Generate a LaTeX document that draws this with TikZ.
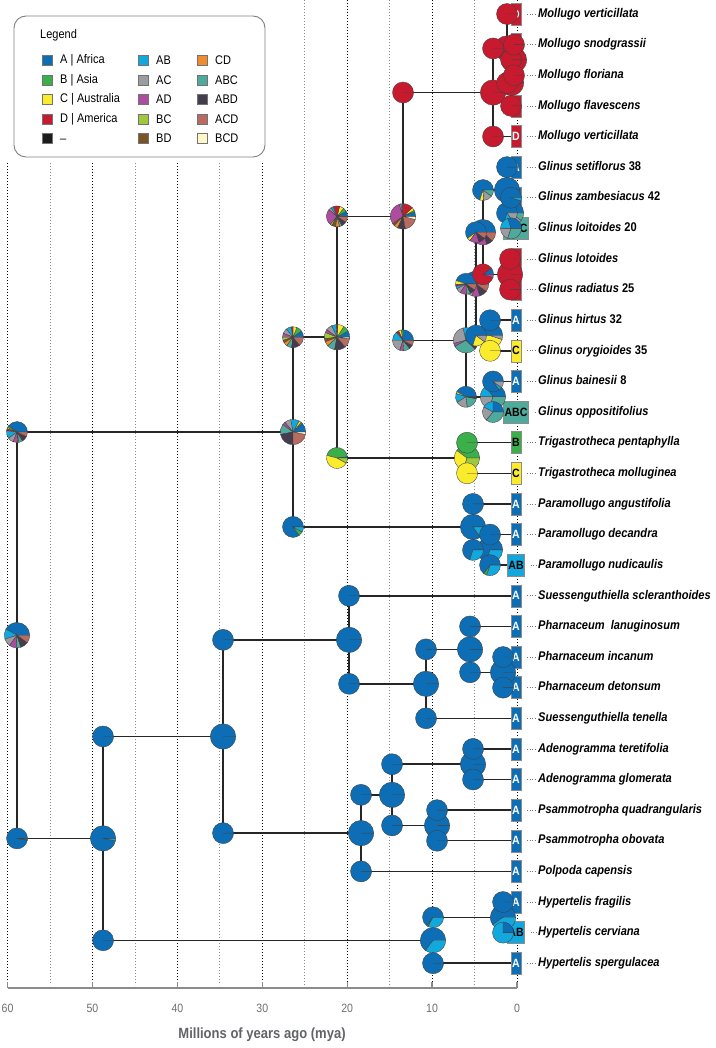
\documentclass[tikz,border=0pt]{standalone}
\usepackage{fontspec}
\setmainfont{Liberation Sans}[FakeStretch=0.88]

\definecolor{colA}{HTML}{0D6EB5}
\definecolor{colB}{HTML}{3AAF4A}
\definecolor{colC}{HTML}{FAEC2D}
\definecolor{colD}{HTML}{C71A2F}
\definecolor{colNull}{HTML}{1C1C1C}
\definecolor{colAB}{HTML}{12A8DE}
\definecolor{colAC}{HTML}{9B9C9F}
\definecolor{colAD}{HTML}{AE4C9F}
\definecolor{colBC}{HTML}{9FC93C}
\definecolor{colBD}{HTML}{7A5424}
\definecolor{colCD}{HTML}{F08C30}
\definecolor{colABC}{HTML}{4FAA9B}
\definecolor{colABD}{HTML}{453C4E}
\definecolor{colACD}{HTML}{B86B60}
\definecolor{colBCD}{HTML}{FFF7C8}
\definecolor{axisgray}{HTML}{6D6E72}

\tikzset{
  branch/.style={draw=black!85, line width=1.5pt},
  tipbox/.style={draw=black!45, line width=0.4pt, minimum width=10pt, minimum height=22pt,
    inner sep=1pt, font=\fontsize{12}{12}\selectfont\bfseries},
  taxon/.style={anchor=west, inner sep=0pt, text height=9pt, text depth=2.5pt,
    font=\fontsize{12.6}{14}\selectfont\bfseries\itshape},
  leader/.style={draw=black!55, line width=0.7pt, dash pattern=on 0.7pt off 1.8pt,
    shorten <=6pt, shorten >=2pt},
  majorgrid/.style={draw=black, line width=0.9pt, dash pattern=on 0.9pt off 2.1pt},
  minorgrid/.style={draw=black!45, line width=0.9pt, dash pattern=on 0.9pt off 2.1pt},
  pieslice/.style={draw=black!75, line width=0.35pt},
  swatch/.style={draw=black!55, line width=0.4pt, minimum size=10pt, inner sep=0pt},
  legtext/.style={anchor=west, inner sep=0pt, font=\fontsize{12.5}{14}\selectfont},
  legendbox/.style={draw=black!50, line width=0.9pt, rounded corners=12pt},
  axisline/.style={draw=axisgray!80, line width=1.4pt},
  ticklabel/.style={text=axisgray, font=\fontsize{12}{14}\selectfont},
  axistitle/.style={text=axisgray!90!black, font=\fontsize{14.8}{16}\selectfont\bfseries},
}

% pie of state probabilities: centre, radius, list of percent/colour
\newcommand{\statepie}[3]{%
  \xdef\pieangA{0}%
  \foreach \pieval/\piecol in {#3}{%
    \pgfmathsetmacro{\pieangB}{\pieangA+3.6*\pieval}%
    \filldraw[pieslice, fill=\piecol] (#1) -- ++(\pieangA:#2)
      arc[start angle=\pieangA, end angle=\pieangB, radius=#2] -- cycle;
    \xdef\pieangA{\pieangB}%
  }%
}

\begin{document}
\begin{tikzpicture}[x=1pt,y=-1pt]
\useasboundingbox (0,0) rectangle (715,1048);

% time grid
\foreach \myr in {0,10,...,60}{
  \pgfmathsetmacro\gx{517-8.49*\myr}
  \pgfmathsetmacro\gy{\myr>=30 ? 163 : 0}
  \draw[majorgrid] (\gx,\gy) -- (\gx,985);
}
\foreach \myr in {5,15,...,55}{
  \pgfmathsetmacro\gx{517-8.49*\myr}
  \pgfmathsetmacro\gy{\myr>=30 ? 163 : 0}
  \draw[minorgrid] (\gx,\gy) -- (\gx,985);
}

% axis
\draw[axisline] (7.6,988) -- (517,988);
\foreach \myr in {0,10,...,60}{
  \pgfmathsetmacro\gx{517-8.49*\myr}
  \draw[axisline] (\gx,988) -- (\gx,982);
  \node[ticklabel] (tick\myr) at (\gx,1008) {\myr};
}
\node[axistitle] (axtitle) at (262,1035) {Millions of years ago (mya)};

% legend
\draw[legendbox, fill=white] (14,16) rectangle (265,157);
\node[legtext] (legtitle) at (40,35) {Legend};
\foreach \sx/\ly/\lc/\lt [count=\k] in {
    47/60/colA/{A | Africa}, 47/80/colB/{B | Asia}, 47/99.5/colC/{C | Australia},
    47/119/colD/{D | America}, 47/138.5/colNull/{\_},
    143/60/colAB/AB, 143/80/colAC/AC, 143/99.5/colAD/AD, 143/119/colBC/BC, 143/138.5/colBD/BD,
    202/60/colCD/CD, 202/80/colABC/ABC, 202/99.5/colABD/ABD, 202/119/colACD/ACD, 202/138.5/colBCD/BCD}{
  \node[swatch, fill=\lc] (sw\k) at (\sx,\ly) {};
  \node[legtext] (lt\k) at (\sx+13,\ly) {\lt};
}

% internal nodes
\coordinate (root) at (17,635.2);
\coordinate (n26) at (293,432.05);
\coordinate (n21) at (337,337.2);
\coordinate (n13) at (403,216.4);
\coordinate (mol) at (493,92.5);
\coordinate (m14) at (507,48.45);
\coordinate (mX) at (511,82.9);
\coordinate (m23) at (514,59.9);
\coordinate (gli) at (466,340.3);
\coordinate (gU) at (476,283.85);
\coordinate (gA) at (483,232.2);
\coordinate (gB) at (507,190.05);
\coordinate (g78) at (511,213);
\coordinate (g910) at (510,274.3);
\coordinate (g1112) at (490,335.5);
\coordinate (g1314) at (493,396.75);
\coordinate (tri) at (467,458);
\coordinate (par) at (473,526.9);
\coordinate (p1819) at (490,549.85);
\coordinate (n48) at (103,838.35);
\coordinate (n35) at (223,736.45);
\coordinate (n20) at (349,639.8);
\coordinate (phT) at (426,683.8);
\coordinate (pha) at (470,649.35);
\coordinate (ph2223) at (503,672.3);
\coordinate (n18) at (361,833.1);
\coordinate (n15) at (392,794.8);
\coordinate (ade) at (473,764.2);
\coordinate (psa) at (437,825.4);
\coordinate (hyp) at (433,940.25);
\coordinate (h3031) at (503,917.3);

% tips: state box and taxon name
\foreach \i/\st/\fc/\tc/\name in {
    1/D/colD/white/Mollugo verticillata,
    2/D/colD/white/Mollugo snodgrassii,
    3/D/colD/white/Mollugo floriana,
    4/D/colD/white/Mollugo flavescens,
    5/D/colD/white/Mollugo verticillata,
    6/A/colA/white/{Glinus setiflorus \textup{38}},
    7/A/colA/white/{Glinus zambesiacus \textup{42}},
    8/ABC/colABC/black/{Glinus loitoides \textup{20}},
    9/D/colD/white/Glinus lotoides,
    10/D/colD/white/{Glinus radiatus \textup{25}},
    11/A/colA/white/{Glinus hirtus \textup{32}},
    12/C/colC/black/{Glinus orygioides \textup{35}},
    13/A/colA/white/{Glinus bainesii \textup{8}},
    14/ABC/colABC/black/Glinus oppositifolius,
    15/B/colB/black/Trigastrotheca pentaphylla,
    16/C/colC/black/Trigastrotheca molluginea,
    17/A/colA/white/Paramollugo angustifolia,
    18/A/colA/white/Paramollugo decandra,
    19/AB/colAB/black/Paramollugo nudicaulis,
    20/A/colA/white/Suessenguthiella scleranthoides,
    21/A/colA/white/{Pharnaceum\ \ lanuginosum},
    22/A/colA/white/Pharnaceum incanum,
    23/A/colA/white/Pharnaceum detonsum,
    24/A/colA/white/Suessenguthiella tenella,
    25/A/colA/white/Adenogramma teretifolia,
    26/A/colA/white/Adenogramma glomerata,
    27/A/colA/white/Psammotropha quadrangularis,
    28/A/colA/white/Psammotropha obovata,
    29/A/colA/white/Polpoda capensis,
    30/A/colA/white/Hypertelis fragilis,
    31/AB/colAB/black/Hypertelis cerviana,
    32/A/colA/white/Hypertelis spergulacea}{
  \pgfmathsetmacro\ty{14+30.62*(\i-1)}
  \node[tipbox, fill=\fc, text=\tc] (t\i) at (516,\ty) {\st};
  \node[taxon] (l\i) at (538,\ty) {\name};
  \draw[leader] (t\i.east) -- (l\i.west);
}

% branches
\foreach \pa/\ch in {root/n26, root/n48, n26/n21, n26/par, n21/n13, n21/tri,
    n13/mol, n13/gli, mol/m14, mol/t5, m14/t1, m14/mX, mX/m23, mX/t4, m23/t2, m23/t3,
    gli/gU, gli/g1314, gU/gA, gU/g1112, gA/gB, gA/g910, gB/t6, gB/g78, g78/t7, g78/t8,
    g910/t9, g910/t10, g1112/t11, g1112/t12, g1314/t13, g1314/t14, tri/t15, tri/t16,
    par/t17, par/p1819, p1819/t18, p1819/t19, n48/n35, n48/hyp, n35/n20, n35/n18,
    n20/t20, n20/phT, phT/pha, phT/t24, pha/t21, pha/ph2223, ph2223/t22, ph2223/t23,
    n18/n15, n18/t29, n15/ade, n15/psa, ade/t25, ade/t26, psa/t27, psa/t28,
    hyp/h3031, hyp/t32, h3031/t30, h3031/t31}
  \draw[branch] (\pa) |- (\ch);

% node pies
\statepie{root}{12.7pt}{42/colA,13/colAB,10/colAC,9/colAD,6/colABC,10/colABD,10/colACD}
\statepie{n26}{12.7pt}{12/colA,2/colB,3/colC,11/colAB,8/colAC,4/colAD,13/colABC,22/colABD,22/colACD,3/colBCD}
\statepie{n21}{12.7pt}{8/colA,8/colB,8/colC,2/colD,6/colAB,8/colAC,4/colAD,8/colBC,4/colBD,6/colCD,10/colABC,14/colABD,12/colACD,2/colBCD}
\statepie{n13}{12.7pt}{6/colA,2/colB,4/colC,14/colD,2/colAB,2/colAC,30/colAD,3/colBD,5/colCD,10/colABD,18/colACD,4/colBCD}
\statepie{gli}{12.7pt}{15/colA,14/colAB,25/colAC,4/colAD,30/colABC,6/colABD,6/colACD}
\statepie{gU}{12.7pt}{55/colA,5/colC,10/colAC,10/colAD,10/colABD,10/colACD}
\statepie{gA}{12.7pt}{55/colA,3/colC,6/colD,16/colAD,8/colABD,12/colACD}
\statepie{gB}{12.7pt}{85/colA,10/colAB,5/colAC}
\statepie{g78}{12.7pt}{60/colA,20/colAB,10/colAC,10/colABC}
\statepie{g1112}{12.7pt}{50/colA,45/colC,5/colAC}
\statepie{g1314}{12.7pt}{35/colA,15/colAB,20/colAC,30/colABC}
\statepie{tri}{12.7pt}{40/colB,30/colC,30/colBC}
\statepie{par}{12.7pt}{85/colA,15/colAB}
\statepie{p1819}{12.7pt}{70/colA,30/colAB}
\statepie{n48}{12.7pt}{97/colA,3/colAB}
\statepie{hyp}{12.7pt}{65/colA,35/colAB}
\statepie{h3031}{12.7pt}{60/colA,40/colAB}
\foreach \nd in {mol,m14,mX,m23,g910}{\statepie{\nd}{12.7pt}{100/colD}}
\foreach \nd in {n35,n20,phT,pha,ph2223,n18,n15,ade,psa}{\statepie{\nd}{12.7pt}{100/colA}}

% corner pies
\statepie{root|-n26}{10.5pt}{40/colA,3/colB,2/colC,3/colD,12/colAB,9/colAC,7/colAD,2/colBC,6/colABC,9/colABD,7/colACD}
\statepie{root|-n48}{10.5pt}{97/colA,1/colB,2/colAB}
\statepie{n26|-n21}{10.5pt}{10/colA,9/colB,6/colC,3/colD,8/colAB,8/colAC,6/colAD,5/colBC,4/colBD,6/colCD,8/colABC,13/colABD,14/colACD}
\statepie{n26|-par}{10.5pt}{85/colA,7/colB,8/colAB}
\statepie{n21|-n13}{10.5pt}{8/colA,6/colB,7/colC,10/colD,4/colAB,4/colAC,25/colAD,3/colBC,6/colBD,6/colCD,4/colABC,8/colABD,9/colACD}
\statepie{n21|-tri}{10.5pt}{2/colA,44/colB,46/colC,8/colBC}
\statepie{n13|-gli}{10.5pt}{25/colA,3/colB,4/colC,4/colD,14/colAB,20/colAC,6/colAD,10/colABC,6/colABD,8/colACD}
\statepie{gli|-gU}{10.5pt}{45/colA,6/colC,3/colD,4/colAB,8/colAC,10/colAD,6/colABC,8/colABD,10/colACD}
\statepie{gli|-g1314}{10.5pt}{42/colA,3/colC,14/colAB,18/colAC,20/colABC,3/colABD}
\statepie{gU|-gA}{10.5pt}{60/colA,5/colC,15/colAD,10/colABD,10/colACD}
\statepie{gU|-g1112}{10.5pt}{70/colA,20/colC,10/colAC}
\statepie{gA|-gB}{10.5pt}{70/colA,6/colC,14/colAC,10/colABC}
\statepie{gA|-g910}{10.5pt}{10/colA,85/colD,5/colAD}
\statepie{gB|-g78}{10.5pt}{70/colA,15/colAB,15/colAC}
\statepie{g78|-t7}{10.5pt}{95/colA,5/colAB}
\statepie{g78|-t8}{10.5pt}{30/colA,20/colAB,20/colAC,30/colABC}
\statepie{g1314|-t13}{10.5pt}{85/colA,5/colAB,10/colAC}
\statepie{g1314|-t14}{10.5pt}{25/colA,17/colAB,22/colAC,36/colABC}
\statepie{par|-p1819}{10.5pt}{70/colA,30/colAB}
\statepie{p1819|-t19}{10.5pt}{65/colA,5/colB,30/colAB}
\statepie{hyp|-h3031}{10.5pt}{65/colA,2/colB,33/colAB}
\statepie{h3031|-t31}{10.5pt}{25/colA,75/colAB}
\statepie{tri|-t15}{10.5pt}{100/colB}
\foreach \pa/\ch in {g1112/t12, tri/t16}{\statepie{\pa|-\ch}{10.5pt}{100/colC}}
\foreach \pa/\ch in {n13/mol, mol/m14, mol/t5, m14/t1, m14/mX, mX/m23, mX/t4, m23/t2, m23/t3,
    g910/t9, g910/t10}{\statepie{\pa|-\ch}{10.5pt}{100/colD}}
\foreach \pa/\ch in {gB/t6, g1112/t11, par/t17, p1819/t18, n48/n35, n48/hyp, n35/n20, n35/n18,
    n20/t20, n20/phT, phT/pha, phT/t24, pha/t21, pha/ph2223, ph2223/t22, ph2223/t23,
    n18/n15, n18/t29, n15/ade, n15/psa, ade/t25, ade/t26, psa/t27, psa/t28,
    hyp/t32, h3031/t30}{\statepie{\pa|-\ch}{10.5pt}{100/colA}}
\end{tikzpicture}
\end{document}
